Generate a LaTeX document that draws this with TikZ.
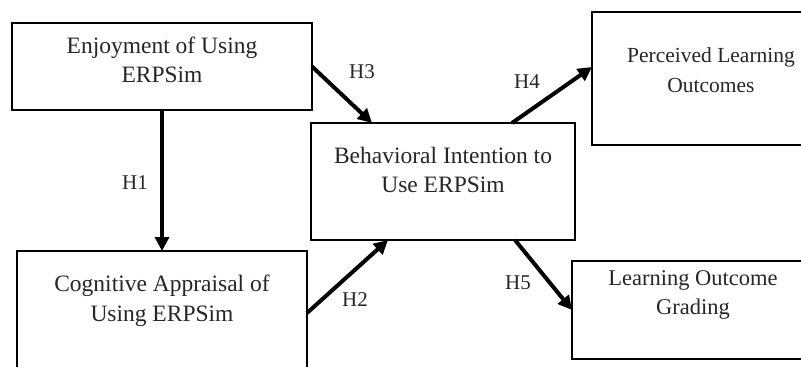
\documentclass[tikz,border=0pt]{standalone}
\usepackage{fontspec}
\setmainfont{Liberation Serif}
\usetikzlibrary{arrows.meta,calc}
\begin{document}
\begin{tikzpicture}[x=1pt,y=-1pt,
  box/.style={draw=black,line width=1.6pt,rectangle,outer sep=0pt,inner sep=0pt,anchor=north west},
  lbl/.style={align=center,inner sep=0pt,text=black!85,font=\fontsize{23.5}{29.5}\selectfont},
  hlbl/.style={inner sep=0pt,text=black!85,font=\fontsize{21}{25}\selectfont},
  conn/.style={line width=4pt,-{Triangle[length=14pt,width=14pt]}}]
\useasboundingbox (0,0) rectangle (801,367);
\clip (0,0) rectangle (801,367);
% boxes
\node[box,minimum width=300pt,minimum height=87pt] (A) at (12,23) {};
\node[box,minimum width=264pt,minimum height=117pt] (B) at (311,123) {};
\node[box,minimum width=240pt,minimum height=133pt] (C) at (592,12) {};
\node[box,minimum width=290pt,minimum height=130pt] (D) at (17,251) {};
\node[box,minimum width=240pt,minimum height=98pt] (E) at (572,261) {};
% texts
\node[lbl] (At) at (162,60) {Enjoyment of Using\\ERPSim};
\node[lbl] (Bt) at (443,170) {Behavioral Intention to\\Use ERPSim};
\node[lbl,font=\fontsize{21.5}{29.5}\selectfont] (Ct) at (711,70) {Perceived Learning\\Outcomes};
\node[lbl] (Dt) at (162,301) {Cognitive Appraisal of\\Using ERPSim};
\node[lbl,font=\fontsize{22.5}{29.5}\selectfont] (Et) at (693,295) {Learning Outcome\\Grading};
% connectors
\draw[conn] (A.south -| 162,0) coordinate (a1) -- (D.north -| a1);
\draw[conn] (A.east) -- ($(B.north west)+(61,0)$);
\draw[conn] ($(B.north west)+(201,0)$) -- ($(C.north west)+(0,55)$);
\draw[conn] ($(D.north east)+(0,62)$) -- ($(B.south west)+(77,0)$);
\draw[conn] ($(B.south west)+(204,0)$) -- ($(E.north west)+(0,49)$);
% labels
\node[hlbl] (h1) at (135,183) {H1};
\node[hlbl] (h2) at (355,300) {H2};
\node[hlbl] (h3) at (362,72) {H3};
\node[hlbl] (h4) at (527,82) {H4};
\node[hlbl] (h5) at (518,283) {H5};
\end{tikzpicture}
\end{document}
